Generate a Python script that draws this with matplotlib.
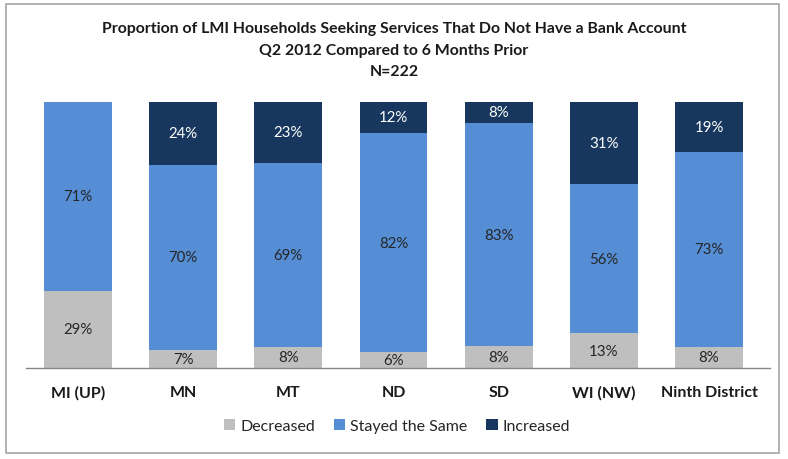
import matplotlib
matplotlib.use("Agg")
import matplotlib.pyplot as plt
from matplotlib.patches import Rectangle
import numpy as np

plt.rcParams['font.family'] = ['Lato', 'DejaVu Sans']

categories = ["MI (UP)", "MN", "MT", "ND", "SD", "WI (NW)", "Ninth District"]
decreased = [29, 7, 8, 6, 8, 13, 8]
stayed = [71, 70, 69, 82, 83, 56, 73]
increased = [0, 24, 23, 12, 8, 31, 19]
series_names = ["Decreased", "Stayed the Same", "Increased"]
colors = ["#BFBFBF", "#558ED5", "#17375E"]
label_colors = ["#262626", "#262626", "white"]

title = ("Proportion of LMI Households Seeking Services That Do Not Have a Bank Account\n"
         "Q2 2012 Compared to 6 Months Prior\nN=222")

fig = plt.figure(figsize=(7.88, 4.6), dpi=100)
ax = fig.add_axes([26/788, 1-369/460, (770-26)/788, (369-102.5)/460])

data = np.array([decreased, stayed, increased], dtype=float)
totals = data.sum(axis=0)
norm = data / totals * 100
x = np.arange(len(categories))
bottom = np.zeros(len(categories))
handles = []
for i in range(3):
    bars = ax.bar(x, norm[i], bottom=bottom, width=0.645, color=colors[i],
                  label=series_names[i], edgecolor='none')
    handles.append(bars)
    for j in range(len(categories)):
        if data[i, j] > 0:
            ax.text(x[j], bottom[j] + norm[i, j] / 2, f"{int(data[i, j])}%",
                    ha='center', va='center', fontsize=10.8, color=label_colors[i])
    bottom += norm[i]

ax.set_ylim(0, 100)
ax.set_xlim(-0.495, 6.58)
ax.set_yticks([])
for s in ['top', 'right', 'left']:
    ax.spines[s].set_visible(False)
ax.spines['bottom'].set_color('#868686')
ax.spines['bottom'].set_linewidth(1)
ax.set_xticks(x)
ax.set_xticklabels(categories, fontsize=11.5, fontweight='bold', color='#1a1a1a')
ax.tick_params(axis='x', length=0, pad=12)

fig.text(394/788, 1-50.5/460, title, ha='center', va='center', fontsize=11.4,
         fontweight='bold', linespacing=1.65, color='#1a1a1a')

leg = fig.legend(handles=handles, labels=series_names, loc='center',
                 bbox_to_anchor=(397/788, 1-427/460), ncol=3, frameon=False,
                 fontsize=11.5, handlelength=0.7, handleheight=0.7,
                 handletextpad=0.3, columnspacing=1.2)
for t in leg.get_texts():
    t.set_color('#262626')

fig.patches.append(Rectangle((6/788, 1-454/460), (779-6)/788, (454-4.5)/460,
                             transform=fig.transFigure, fill=False,
                             edgecolor='#A6A6A6', linewidth=1.2))

fig.savefig("out.png", dpi=100)
